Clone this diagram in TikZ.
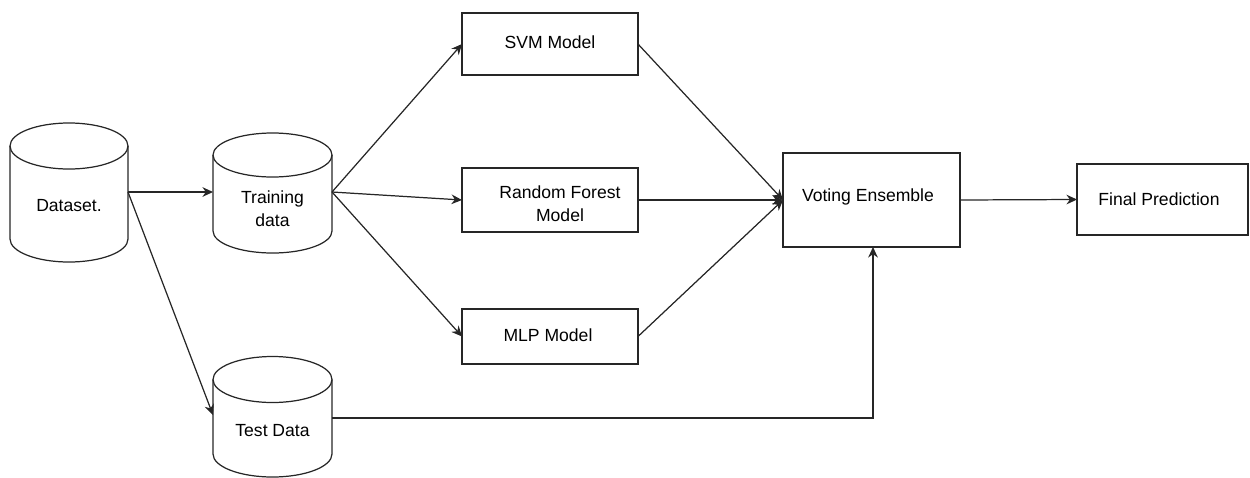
\documentclass[tikz,border=0pt]{standalone}
\usepackage{fontspec}
\setmainfont{Liberation Sans}
\usetikzlibrary{arrows.meta,calc}
\newcommand\mycyl[5]{% #1 xl, #2 xr, #3 top centre y, #4 bottom centre y, #5 ry
  \pgfmathsetmacro\cylcx{(#1+#2)/2}
  \pgfmathsetmacro\cylrx{(#2-#1)/2}
  \pgfmathsetmacro\cylkx{0.5523*\cylrx}
  \pgfmathsetmacro\cylky{0.5523*#5}
  \draw[outline] (\cylcx,#3) ellipse [x radius=\cylrx, y radius=#5];
  \draw[outline] (#1,#3) -- (#1,#4) .. controls (#1,#4+\cylky) and (\cylcx-\cylkx,#4+#5) .. (\cylcx,#4+#5)
     .. controls (\cylcx+\cylkx,#4+#5) and (#2,#4+\cylky) .. (#2,#4) -- (#2,#3);
}
\begin{document}
\begin{tikzpicture}[x=0.02cm,y=-0.02cm,
  outline/.style={draw=black!85,line width=0.7pt},
  box/.style={outline,rectangle,inner sep=0pt,outer sep=0pt,align=center},
  txt/.style={inner sep=0pt,align=center,font=\fontsize{10pt}{13pt}\selectfont},
  conn/.style={draw=black!85,line width=0.7pt,-{Stealth[length=6pt,width=5.5pt]}}]
\useasboundingbox (0,0) rectangle (1250,477);
\tikzset{every node/.append style={font=\fontsize{10pt}{13pt}\selectfont}}

% cylinders
\mycyl{10}{128}{146}{239}{23}
\mycyl{213}{332}{155}{231}{22}
\mycyl{213}{332}{379.5}{454}{23}
\node[txt] (ds) at (69,206) {Dataset.};
\node[txt] (tr) at (272.5,209) {Training\\data};
\node[txt] (te) at (272.5,431) {Test Data};
\coordinate (ds-r) at (128,192);
\coordinate (tr-l) at (213,192);
\coordinate (tr-r) at (332,192);
\coordinate (te-l) at (213,415);
\coordinate (te-r) at (332,418);

% boxes
\node[box,minimum width=3.52cm,minimum height=1.24cm] (svm) at (550,44) {};
\node[txt] (svmt) at (550,42) {SVM Model};
\node[box,minimum width=3.52cm,minimum height=1.28cm] (rf) at (550,200) {};
\node[txt] (rft) at (560,204) {Random Forest\\Model};
\node[box,minimum width=3.52cm,minimum height=1.10cm] (mlp) at (550,336.5) {};
\node[txt] (mlpt) at (548,335) {MLP Model};
\node[box,minimum width=3.54cm,minimum height=1.88cm] (vote) at (871.5,200) {};
\node[txt] (votet) at (868,197) {Voting Ensemble};
\node[box,minimum width=3.42cm,minimum height=1.42cm] (final) at (1162.5,199.5) {};
\node[txt] (finalt) at (1159,199) {Final Prediction};

% connectors
\draw[conn] (ds-r) -- (tr-l);
\draw[conn] (ds-r) -- (te-l);
\draw[conn] (tr-r) -- (svm.west);
\draw[conn] (tr-r) -- (rf.west);
\draw[conn] (tr-r) -- (mlp.west);
\draw[conn] (svm.east) -- (vote.west);
\draw[conn] (rf.east) -- (vote.west);
\draw[conn] (mlp.east) -- (vote.west);
\draw[conn] (vote.east) -- (final.west);
\draw[conn] (te-r) -| ($(vote.south)+(1.5,0)$);
\end{tikzpicture}
\end{document}
